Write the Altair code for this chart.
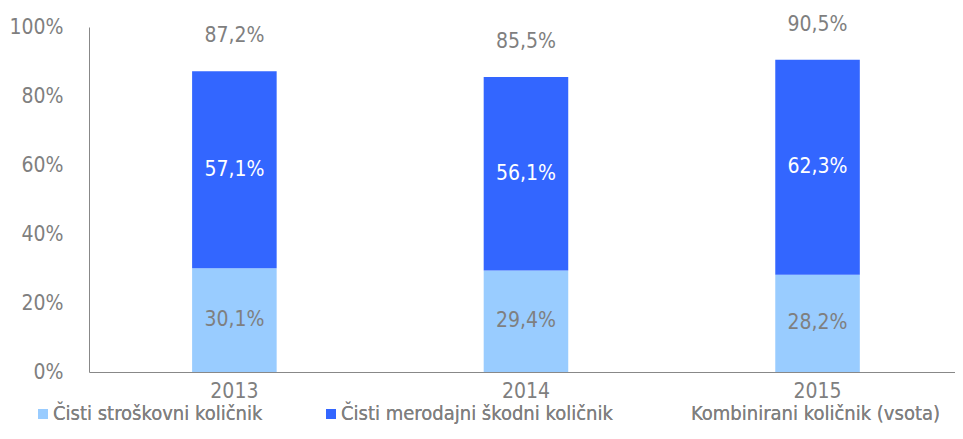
import altair as alt
import pandas as pd

years = ["2013", "2014", "2015"]
cost_ratio = [30.1, 29.4, 28.2]
claims_ratio = [57.1, 56.1, 62.3]
combined = [87.2, 85.5, 90.5]
series_names = ["Čisti stroškovni količnik", "Čisti merodajni škodni količnik", "Kombinirani količnik (vsota)"]

FONT = "DejaVu Sans Condensed, Liberation Sans, sans-serif"
FS = 21
LFS = 20
GRAY = "#7f7f7f"

def fmt(v):
    return f"{v:.1f}".replace(".", ",") + "%"

rows = []
for i, y in enumerate(years):
    rows.append({"year": y, "series": series_names[0], "start": 0, "end": cost_ratio[i] / 100,
                 "mid": cost_ratio[i] / 200, "label": fmt(cost_ratio[i])})
    rows.append({"year": y, "series": series_names[1], "start": cost_ratio[i] / 100,
                 "end": (cost_ratio[i] + claims_ratio[i]) / 100,
                 "mid": (cost_ratio[i] + claims_ratio[i] / 2) / 100, "label": fmt(claims_ratio[i])})
df = pd.DataFrame(rows)
tot = pd.DataFrame({"year": years, "total": [c / 100 for c in combined],
                    "label": [fmt(c) for c in combined], "series": series_names[2]})

color = alt.Color("series:N", scale=alt.Scale(domain=series_names, range=["#99CCFF", "#3366FF", "transparent"]),
                  legend=alt.Legend(title=None, orient="none", legendX=-56, legendY=377, direction="horizontal",
                                    symbolType="square", symbolSize=100, symbolStrokeWidth=0,
                                    labelFont=FONT, labelFontSize=LFS, labelColor=GRAY, columnPadding=58,
                                    symbolOffset=0, labelOffset=0, labelLimit=400, padding=0))

x = alt.X("year:N", sort=years, title=None,
          scale=alt.Scale(paddingInner=0.71, paddingOuter=0.34, align=0.52),
          axis=alt.Axis(labelAngle=0, ticks=False, labelFont=FONT, labelFontSize=FS, labelColor=GRAY,
                        labelPadding=8, domainColor="#888888"))

bars = alt.Chart(df).mark_bar().encode(
    x=x,
    y=alt.Y("start:Q", title=None, scale=alt.Scale(domain=[0, 1]),
            axis=alt.Axis(format=".0%", values=[0, 0.2, 0.4, 0.6, 0.8, 1.0], grid=False, ticks=False,
                          labelFont=FONT, labelFontSize=FS, labelColor=GRAY, labelPadding=26,
                          domainColor="#888888")),
    y2="end:Q",
    color=color,
)

seg_labels = alt.Chart(df).mark_text(font=FONT, fontSize=FS).encode(
    x=alt.X("year:N", sort=years),
    y=alt.Y("mid:Q"),
    text="label:N",
    color=alt.Color("series:N", scale=alt.Scale(domain=series_names[:2], range=[GRAY, "white"]), legend=None),
)

tot_labels = alt.Chart(tot).mark_text(font=FONT, fontSize=FS, color=GRAY, dy=-35).encode(
    x=alt.X("year:N", sort=years),
    y=alt.Y("total:Q"),
    text="label:N",
)

legend_dummy = alt.Chart(tot).mark_point(opacity=0).encode(
    x=alt.X("year:N", sort=years), y=alt.Y("total:Q"), color=color
)

chart = alt.layer(bars, legend_dummy, seg_labels, tot_labels).resolve_scale(color="independent").properties(
    width=866, height=345,
    autosize=alt.AutoSizeParams(type="none"),
    padding={"left": 81, "top": 19, "right": 0, "bottom": 58},
).configure_view(stroke=None)

chart.save("out.html", embed_options={"renderer": "svg", "actions": False})
